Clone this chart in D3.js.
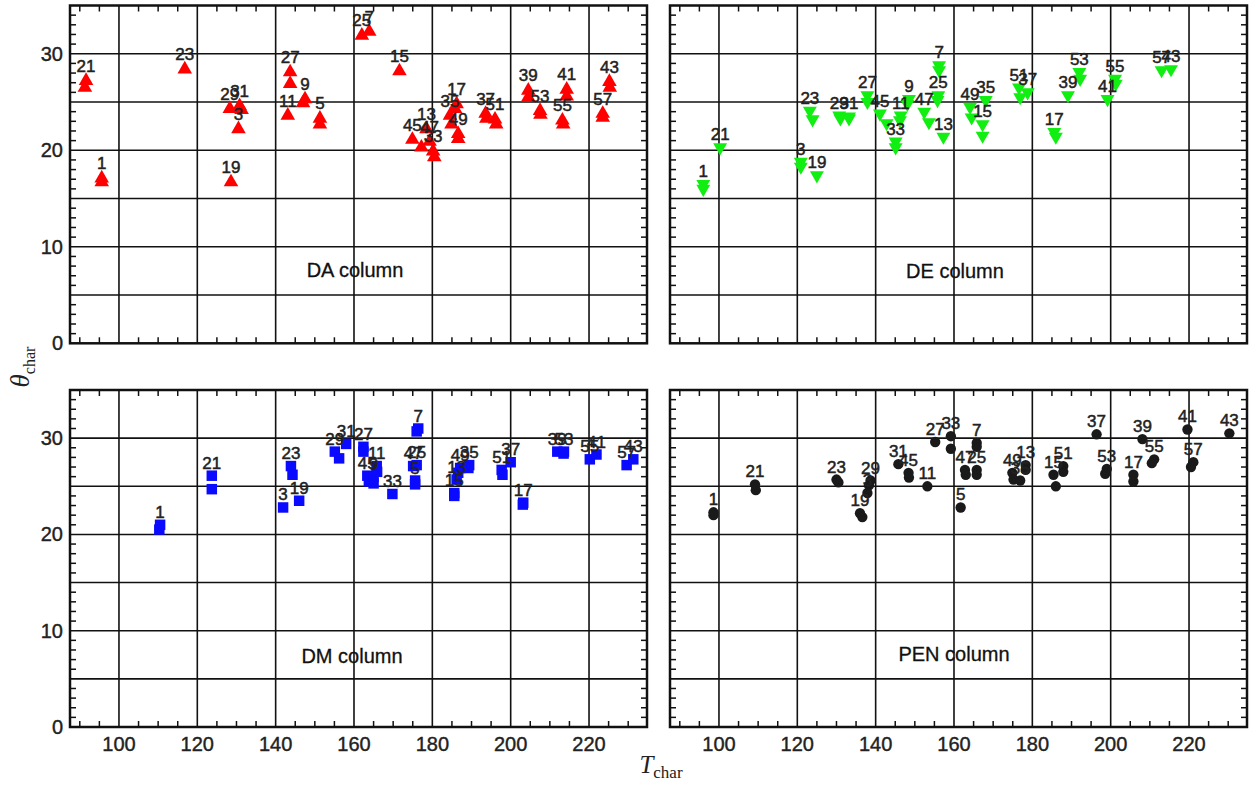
<!DOCTYPE html>
<html>
<head>
<meta charset="utf-8">
<script src="https://cdn.jsdelivr.net/npm/d3@7"></script>
<style>
  body { margin: 0; background: #fff; }
  svg text { font-family: Arial, "Liberation Sans", Helvetica, sans-serif; }
</style>
</head>
<body>
<svg id="chart" width="1251" height="787"></svg>
<script>
// sample number, T_char, theta_char (first row of a sample carries its label)
var daData = [
  ["21", 91.6, 27.2], ["21", 91.3, 26.5], ["1", 95.6, 17.1], ["1", 95.6, 16.7],
  ["23", 116.8, 28.4], ["29", 128.3, 24.3], ["31", 130.8, 24.6], ["31", 131.3, 24.2],
  ["3", 130.5, 22.2], ["19", 128.6, 16.7], ["27", 143.7, 28.1], ["27", 143.7, 26.9],
  ["9", 147.5, 25.3], ["9", 147.0, 24.9], ["11", 143.1, 23.6], ["5", 151.3, 23.3],
  ["5", 151.3, 22.7], ["25", 162.0, 31.9], ["7", 163.9, 32.3], ["15", 171.6, 28.2],
  ["45", 174.9, 21.1], ["13", 178.5, 22.2], ["13", 177.2, 20.3], ["47", 179.3, 20.9],
  ["33", 180.2, 19.9], ["33", 180.5, 19.3], ["17", 186.2, 24.8], ["17", 185.8, 24.3],
  ["35", 184.5, 23.6], ["35", 184.9, 22.7], ["49", 186.6, 21.7], ["49", 186.6, 21.2],
  ["37", 193.6, 23.8], ["37", 193.8, 23.3], ["51", 196.0, 23.2], ["51", 196.3, 22.7],
  ["39", 204.5, 26.2], ["39", 204.5, 25.5], ["53", 207.5, 24.1], ["53", 207.6, 23.7],
  ["41", 214.3, 26.3], ["41", 214.3, 25.6], ["55", 213.2, 23.1], ["55", 213.4, 22.7],
  ["43", 225.2, 27.1], ["43", 225.3, 26.5], ["57", 223.5, 23.8], ["57", 223.5, 23.4]
];

var deData = [
  ["1", 96.0, 16.5], ["1", 96.0, 16.0], ["21", 100.3, 20.3], ["3", 120.9, 18.8],
  ["3", 120.9, 18.3], ["19", 125.0, 17.4], ["23", 123.2, 24.1], ["23", 123.9, 23.2],
  ["29", 130.7, 23.6], ["29", 131.0, 23.3], ["31", 133.2, 23.5], ["31", 133.2, 23.3],
  ["27", 137.9, 25.7], ["27", 137.9, 25.0], ["45", 141.1, 23.8], ["45", 142.8, 22.8],
  ["11", 146.4, 23.6], ["11", 146.2, 23.1], ["9", 148.5, 25.3], ["9", 148.1, 24.8],
  ["33", 145.1, 20.9], ["33", 145.1, 20.3], ["47", 152.4, 24.0], ["47", 153.6, 22.9],
  ["25", 156.0, 25.7], ["25", 155.8, 25.2], ["7", 156.2, 28.8], ["7", 156.2, 28.3],
  ["13", 157.3, 21.4], ["49", 164.1, 24.5], ["49", 164.5, 23.4], ["35", 168.1, 25.2],
  ["15", 167.3, 22.7], ["15", 167.3, 21.5], ["51", 176.6, 26.5], ["51", 176.9, 25.5],
  ["37", 178.8, 26.0], ["17", 185.6, 21.9], ["17", 186.0, 21.4], ["39", 189.1, 25.7],
  ["53", 192.0, 28.1], ["53", 192.2, 27.4], ["41", 199.2, 25.3], ["55", 201.1, 27.4],
  ["55", 201.3, 26.9], ["57", 213.0, 28.3], ["43", 215.4, 28.4]
];

var dmData = [
  ["1", 110.5, 21.0], ["1", 110.3, 20.5], ["21", 123.7, 26.1], ["21", 123.7, 24.7],
  ["3", 141.9, 22.8], ["23", 143.9, 27.1], ["23", 144.3, 26.2], ["19", 146.0, 23.5],
  ["29", 155.1, 28.6], ["29", 156.2, 27.9], ["31", 158.0, 29.4], ["27", 162.4, 29.1],
  ["27", 162.4, 28.6], ["45", 163.4, 26.1], ["45", 163.8, 25.5], ["9", 165.0, 26.0],
  ["9", 165.0, 25.3], ["11", 165.8, 27.1], ["11", 165.9, 26.5], ["33", 169.8, 24.2],
  ["7", 176.4, 31.0], ["7", 176.0, 30.7], ["47", 175.1, 27.1], ["25", 176.0, 27.2],
  ["5", 175.6, 25.6], ["5", 175.6, 25.2], ["49", 187.1, 26.9], ["49", 186.6, 26.4],
  ["35", 189.4, 27.2], ["35", 189.2, 26.9], ["13", 186.2, 25.7], ["15", 185.6, 24.3],
  ["15", 185.6, 24.0], ["51", 197.7, 26.7], ["51", 197.9, 26.2], ["37", 200.0, 27.5],
  ["17", 203.2, 23.3], ["17", 203.1, 23.1], ["39", 211.9, 28.6], ["53", 213.6, 28.6],
  ["53", 213.5, 28.4], ["55", 220.2, 27.8], ["41", 221.9, 28.3], ["57", 229.6, 27.2],
  ["43", 231.3, 27.8]
];

var penData = [
  ["1", 98.6, 22.3], ["1", 98.6, 22.0], ["21", 109.2, 25.2], ["21", 109.4, 24.6],
  ["23", 130.0, 25.7], ["23", 130.5, 25.4], ["29", 138.7, 25.6], ["29", 138.3, 25.1],
  ["3", 137.9, 24.3], ["19", 136.0, 22.2], ["19", 136.6, 21.8], ["31", 145.8, 27.3],
  ["45", 148.4, 26.4], ["45", 148.5, 25.9], ["11", 153.2, 25.0], ["27", 155.2, 29.6],
  ["33", 159.2, 30.2], ["33", 159.2, 28.9], ["5", 161.7, 22.8], ["7", 165.8, 29.5],
  ["7", 165.8, 29.1], ["47", 162.8, 26.7], ["47", 163.0, 26.2], ["25", 165.8, 26.7],
  ["25", 165.8, 26.2], ["49", 174.9, 26.4], ["49", 175.2, 25.7], ["35", 176.9, 25.6],
  ["13", 178.3, 27.2], ["13", 178.3, 26.7], ["15", 185.4, 26.2], ["15", 186.0, 25.0],
  ["51", 187.9, 27.1], ["51", 187.9, 26.5], ["37", 196.4, 30.4], ["53", 199.0, 26.8],
  ["53", 198.6, 26.3], ["17", 205.8, 26.2], ["17", 205.8, 25.5], ["39", 208.1, 29.9],
  ["55", 211.1, 27.8], ["55", 210.5, 27.4], ["41", 219.6, 30.9], ["57", 221.1, 27.5],
  ["57", 220.5, 27.0], ["43", 230.3, 30.5]
];

var panelNames = ["DA column", "DE column", "DM column", "PEN column"];
var xTicks = [100, 120, 140, 160, 180, 200, 220];
var yTicks = [0, 10, 20, 30];
var xDomain = [87.5, 234.8];
var yDomain = [0, 35];

var svg = d3.select("#chart");

var panels = [
  { data: daData, name: panelNames[0], x0: 70, x1: 647, y0: 5.5, y1: 343.3,
    color: "#ff0000", symbol: d3.symbolTriangle, size: 92, rot: 0, dy: 9,
    lx: 355, ly: 270, left: true, bottom: false },
  { data: deData, name: panelNames[1], x0: 670, x1: 1247, y0: 5.5, y1: 343.3,
    color: "#11ee11", symbol: d3.symbolTriangle, size: 84, rot: 180, dy: 7,
    lx: 955, ly: 271, left: false, bottom: false },
  { data: dmData, name: panelNames[2], x0: 70, x1: 647, y0: 390, y1: 727,
    color: "#0a0aff", symbol: d3.symbolSquare, size: 110, rot: 0, dy: 7,
    lx: 352, ly: 656, left: true, bottom: true },
  { data: penData, name: panelNames[3], x0: 670, x1: 1247, y0: 390, y1: 727,
    color: "#1a1a1a", symbol: d3.symbolCircle, size: 84, rot: 0, dy: 7,
    lx: 954, ly: 654, left: false, bottom: true }
];

panels.forEach(function(p) {
  var x = d3.scaleLinear().domain(xDomain).range([p.x0, p.x1]);
  var y = d3.scaleLinear().domain(yDomain).range([p.y1, p.y0]);
  var g = svg.append("g");

  // grid
  g.selectAll(".gx").data(xTicks).enter().append("line")
    .attr("x1", d => x(d)).attr("x2", d => x(d))
    .attr("y1", p.y0).attr("y2", p.y1)
    .attr("stroke", "#111").attr("stroke-width", 1.6);
  g.selectAll(".gy").data(d3.range(5, 35, 5)).enter().append("line")
    .attr("x1", p.x0).attr("x2", p.x1)
    .attr("y1", d => y(d)).attr("y2", d => y(d))
    .attr("stroke", "#111").attr("stroke-width", 1.6);

  // minor ticks, inward on all sides
  var mx = d3.range(90, 235, 5).filter(d => d % 20 !== 0);
  var my = d3.range(1, 35, 1).filter(d => d % 5 !== 0);
  [p.y0, p.y1].forEach(function(edge, i) {
    g.selectAll(null).data(mx).enter().append("line")
      .attr("x1", d => x(d)).attr("x2", d => x(d))
      .attr("y1", edge).attr("y2", i === 0 ? edge + 6 : edge - 6)
      .attr("stroke", "#111").attr("stroke-width", 1.5);
  });
  [p.x0, p.x1].forEach(function(edge, i) {
    g.selectAll(null).data(my).enter().append("line")
      .attr("y1", d => y(d)).attr("y2", d => y(d))
      .attr("x1", edge).attr("x2", i === 0 ? edge + 6 : edge - 6)
      .attr("stroke", "#111").attr("stroke-width", 1.5);
  });

  // frame
  g.append("rect")
    .attr("x", p.x0).attr("y", p.y0)
    .attr("width", p.x1 - p.x0).attr("height", p.y1 - p.y0)
    .attr("fill", "none").attr("stroke", "#111").attr("stroke-width", 2.5);

  // tick labels
  if (p.left) {
    g.selectAll(".yl").data(yTicks).enter().append("text")
      .attr("x", p.x0 - 7).attr("y", d => y(d) + 7)
      .attr("text-anchor", "end").attr("font-size", 20).attr("fill", "#222")
      .attr("stroke", "#222").attr("stroke-width", 0.4)
      .text(d => d);
  }
  if (p.bottom) {
    g.selectAll(".xl").data(xTicks).enter().append("text")
      .attr("x", d => x(d)).attr("y", p.y1 + 24)
      .attr("text-anchor", "middle").attr("font-size", 20).attr("fill", "#222")
      .attr("stroke", "#222").attr("stroke-width", 0.4)
      .text(d => d);
  }

  // markers
  g.selectAll(".pt").data(p.data).enter().append("path")
    .attr("d", d3.symbol().type(p.symbol).size(p.size))
    .attr("transform", d => "translate(" + x(d[1]) + "," + y(d[2]) + ") rotate(" + p.rot + ")")
    .attr("fill", p.color);

  // sample labels above the first point of each sample
  var seen = {};
  var labeled = p.data.filter(function(d) {
    if (seen[d[0]]) return false;
    seen[d[0]] = true;
    return true;
  });
  g.selectAll(".lab").data(labeled).enter().append("text")
    .attr("x", d => x(d[1])).attr("y", d => y(d[2]) - p.dy)
    .attr("text-anchor", "middle").attr("font-size", 17).attr("fill", "#222")
    .attr("stroke", "#222").attr("stroke-width", 0.5)
    .text(d => d[0]);

  // panel name
  g.append("text")
    .attr("x", p.lx).attr("y", p.ly + 7)
    .attr("text-anchor", "middle").attr("font-size", 20).attr("fill", "#111")
    .attr("stroke", "#111").attr("stroke-width", 0.3)
    .text(p.name);
});

// axis titles
var yt = svg.append("text")
  .attr("transform", "translate(29,367) rotate(-90)")
  .attr("text-anchor", "middle")
  .style("font-family", "'Liberation Serif', 'Times New Roman', serif");
yt.append("tspan").attr("font-size", 27).attr("font-style", "italic").attr("fill", "#222").text("θ");
yt.append("tspan").attr("font-size", 16).attr("dy", 6).attr("fill", "#222").text("char");

var xt = svg.append("text")
  .attr("x", 661).attr("y", 773)
  .attr("text-anchor", "middle")
  .style("font-family", "'Liberation Serif', 'Times New Roman', serif");
xt.append("tspan").attr("font-size", 25).attr("font-style", "italic").attr("fill", "#222").text("T");
xt.append("tspan").attr("font-size", 17).attr("dy", 5).attr("fill", "#222").text("char");
</script>
</body>
</html>
